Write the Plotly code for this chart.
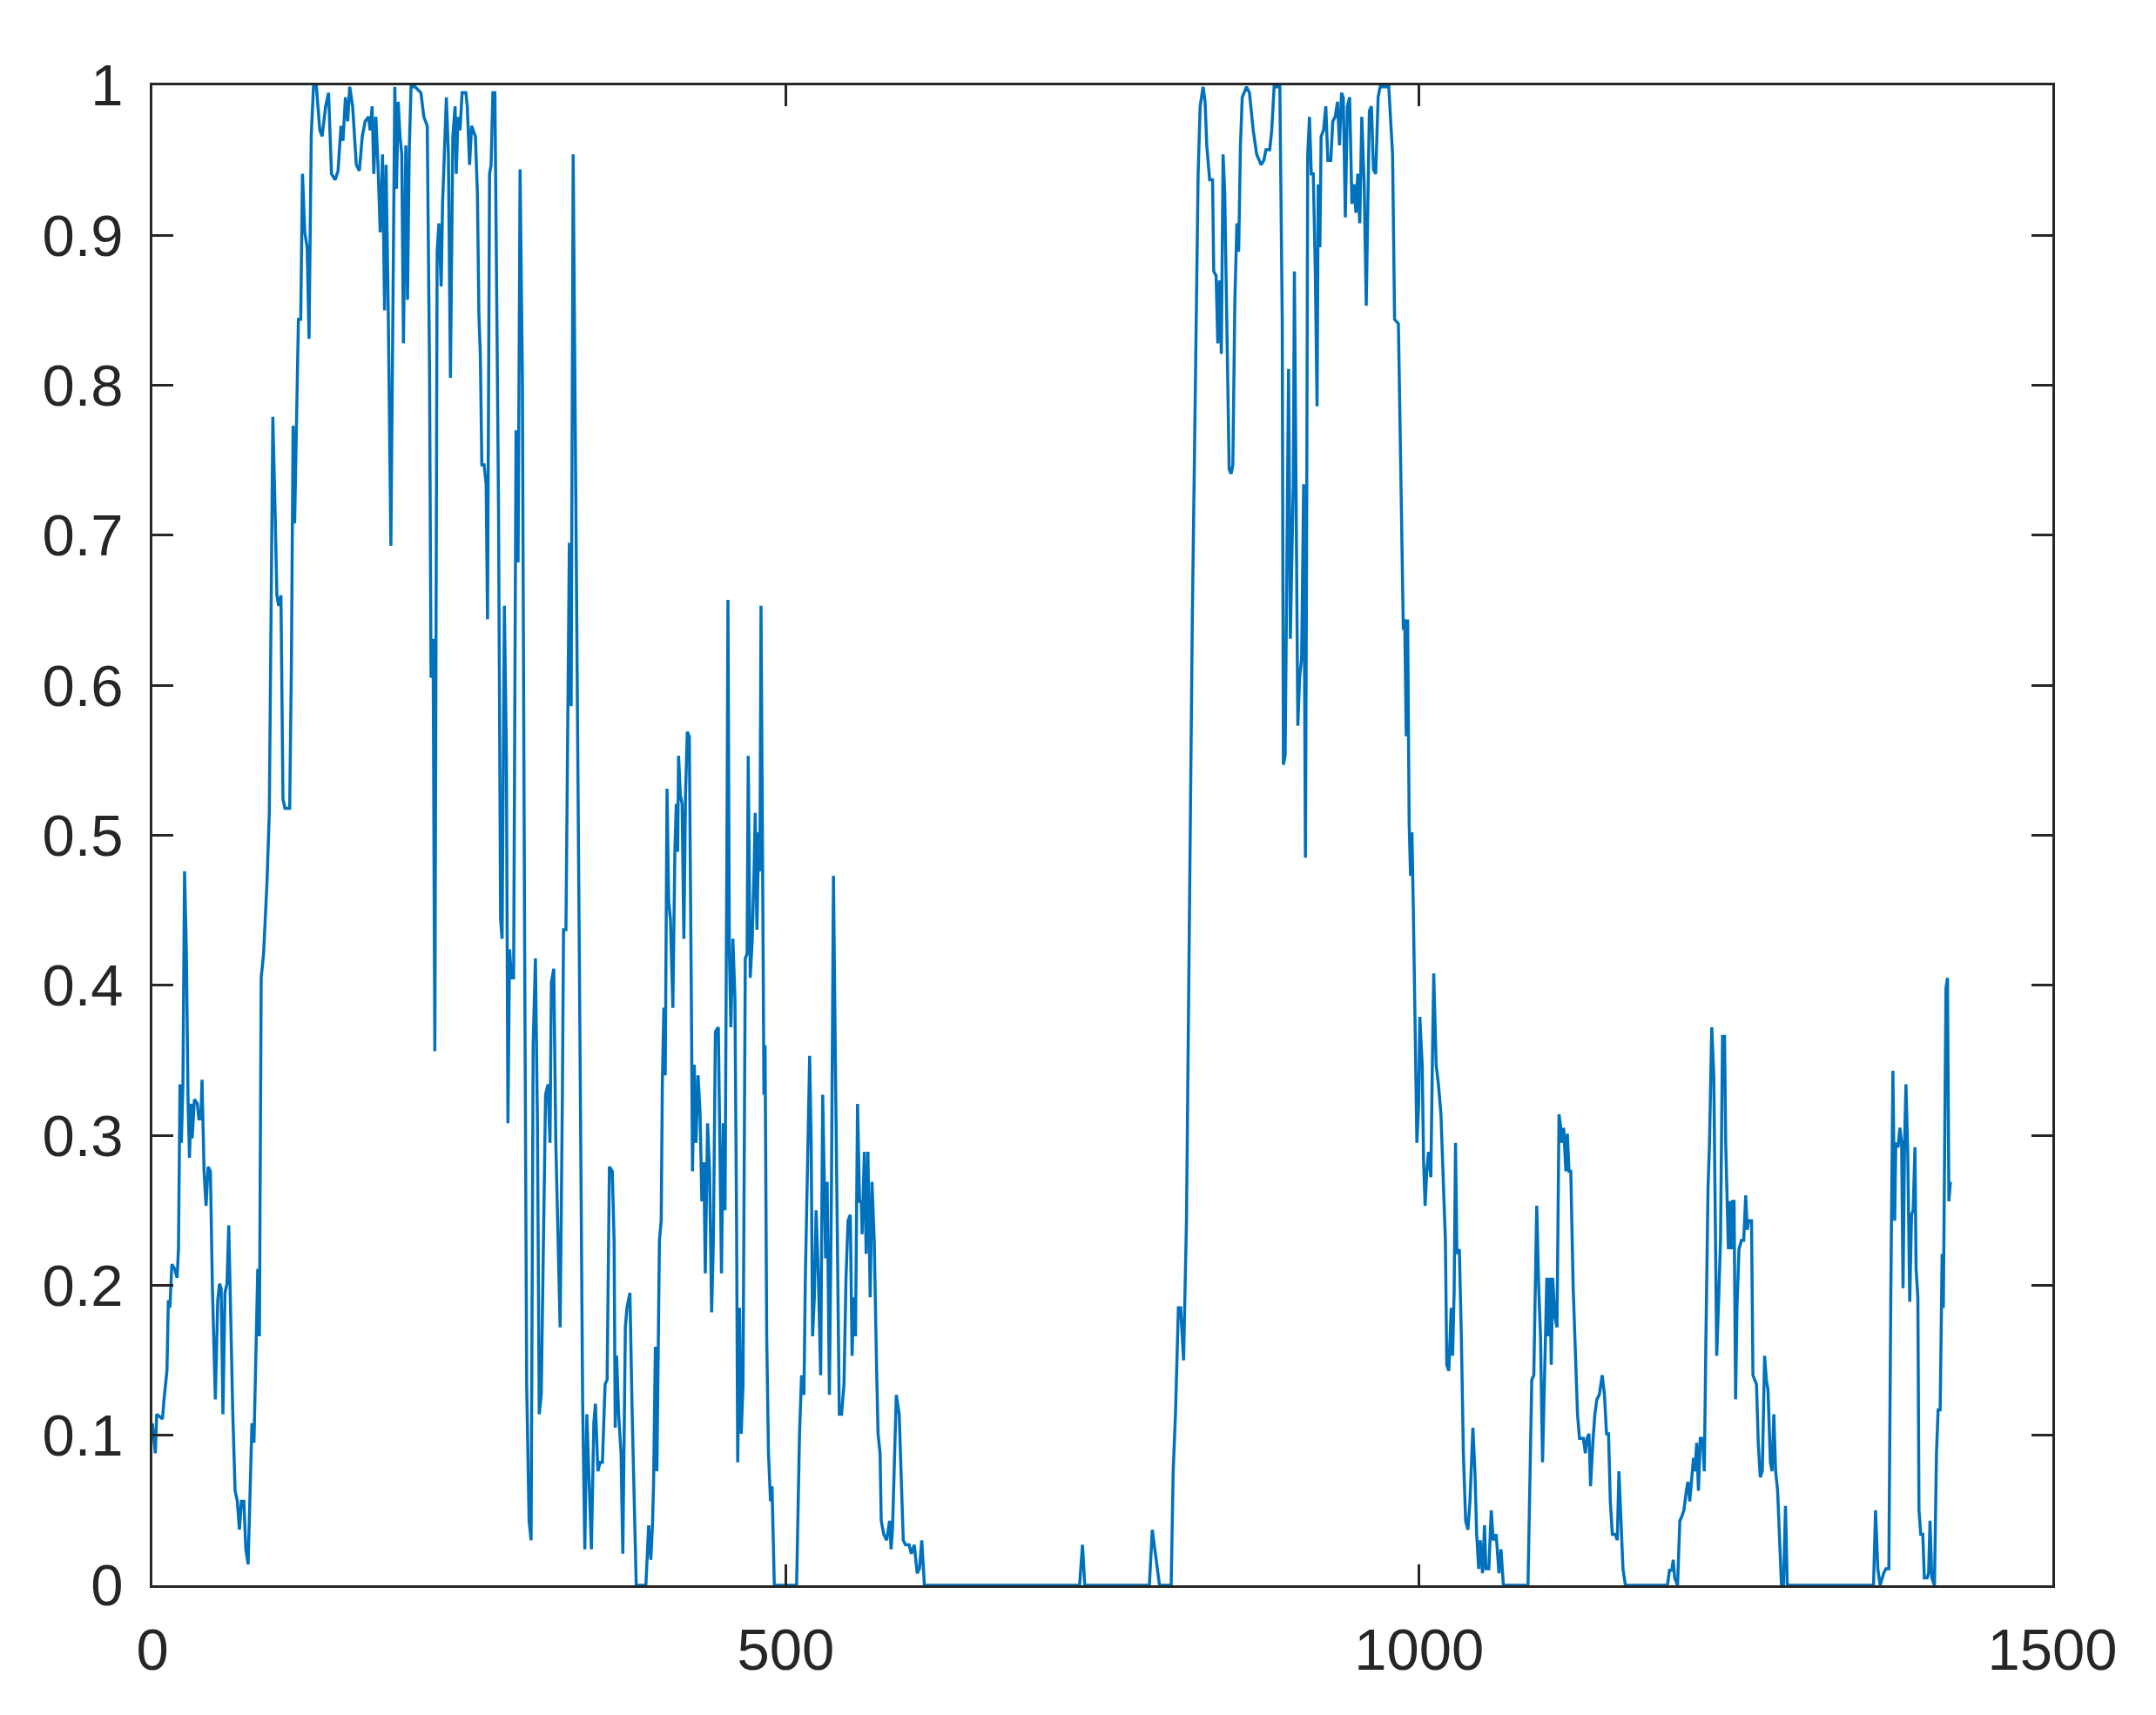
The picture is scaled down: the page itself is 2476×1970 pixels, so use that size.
import plotly.graph_objects as go

# sample index and signal value
sample_idx = [
    0, 2.3, 3.4, 8.0, 9.2, 11.5, 12.6, 13.8, 15.4, 17.6, 19.5, 20.6, 21.8, 22.9, 24.1, 25.4, 26.8, 28.2, 29.3, 30.5,
    31.4, 33.2, 35.5, 36.7, 38.3, 39.2, 40.8, 42.4, 44.0, 45.8, 47.4, 49.7, 51.6, 53.0, 54.3, 55.7, 57.3, 58.9, 60.3, 61.9,
    63.5, 65.3, 67.1, 68.7, 70.3, 72.2, 73.8, 75.6, 77.2, 78.6, 80.2, 81.8, 83.2, 84.5, 85.9, 87.8, 89.4, 90.5, 92.3, 93.3,
    95.1, 96.9, 98.3, 99.7, 101.5, 103.1, 104.7, 106.6, 108.4, 109.8, 111.1, 112.3, 113.4, 115.3, 117.1, 118.5, 120.3, 122.2, 123.7, 125.4,
    127.2, 129.5, 132.2, 134.0, 136.8, 139.1, 141.4, 144.3, 146.6, 148.9, 150.5, 152.4, 154.2, 155.8, 158.1, 161.0, 163.4, 165.7, 168.0, 170.7,
    171.9, 173.5, 174.8, 176.4, 178.1, 179.9, 181.7, 183.3, 184.5, 186.3, 188.3,
    191.4, 192.7, 194.1, 195.5, 196.9, 198.2, 200.1, 201.4, 202.8, 204.2, 207.4, 212.0, 214.3, 217.0, 218.8, 220.0, 221.6, 223.0, 223.9, 224.8,
    226.2, 228.0, 229.1, 232.1, 233.7, 235.3, 237.2, 239.0, 239.9, 241.3, 242.9, 244.5, 247.5, 248.6, 250.4, 252.0, 255.0, 256.6, 257.8, 258.9,
    260.1, 261.9, 263.5, 264.6, 266.2, 267.4, 268.8, 270.4, 272.0, 273.3, 274.9, 276.1, 277.9, 279.5, 280.7, 282.0, 283.4, 285.2, 287.1, 288.7,
    290.3, 292.1, 293.9, 295.5, 297.4, 299.0, 300.6, 302.4, 304.0, 305.4, 307.0, 308.6, 310.4, 312.3, 313.9, 315.0, 316.9, 318.5, 320.1, 321.9,
    323.7, 324.6, 326.5, 327.8, 329.2, 330.6, 332.2, 333.8, 335.6, 337.9, 339.7, 341.4, 343.0, 344.8, 346.6, 348.5, 349.8, 351.7, 353.5, 355.3,
    357.4, 359.0, 360.8, 363.1, 364.5, 365.4, 366.5, 368.1, 370.0, 371.4, 373.4,
    374.7, 377.0, 378.8, 380.6, 382.0, 389.6, 391.8, 393.5, 394.8, 395.7, 397.1, 398.3, 399.4, 400.3, 401.7, 402.6, 403.8, 404.9, 406.3, 407.6,
    409.0, 410.9, 412.5, 413.6, 414.7, 415.4, 416.8, 418.2, 419.6, 420.9, 422.3, 423.9, 425.5, 426.4, 427.8, 429.2, 430.8, 432.4, 433.8, 435.4,
    436.5, 438.3, 439.9, 441.5, 442.9, 444.5, 446.8, 447.9, 449.3, 450.7, 452.1, 453.7, 454.4, 455.5, 456.7, 458.3, 459.9, 461.2, 462.1, 463.5,
    464.9, 466.3, 468.1, 469.5, 470.4, 472.0, 473.6, 475.0, 475.9, 477.3, 478.6, 479.6, 480.5, 481.8, 482.8, 483.7, 485.0, 486.4, 488.0, 489.2,
    491.0, 508.6, 510.9, 512.5, 514.4, 515.5, 517.1, 518.9, 520.1, 521.2, 522.6, 524.0, 525.8, 527.6, 529.2, 530.4, 531.5, 532.7, 534.5, 536.1,
    537.7, 539.1, 540.7, 542.3, 544.1, 546.0, 547.6, 549.2, 551.0, 552.4, 553.7, 555.1, 556.7, 558.3, 559.7,
    560.3, 562.1, 563.5, 564.9, 566.7, 568.1, 569.9, 571.7, 572.9, 574.5, 575.4, 577.4, 579.7, 582.0, 583.2, 584.3, 585.5, 587.3, 589.6, 591.2,
    592.8, 594.6, 597.4, 599.2, 601.5, 603.8, 605.6, 607.4, 609.5, 732.0, 734.3, 736.1,
    787.1, 789.4, 792.1, 795.1, 804.3, 805.9, 807.7, 810.0, 811.8, 814.1, 816.4, 818.0, 819.6, 821.0, 822.6, 824.2, 825.6, 827.2, 829.5, 831.1,
    832.4, 834.7, 837.0, 837.9, 839.8, 841.1, 842.5, 843.9, 845.3, 846.6, 848.5, 850.1, 851.7, 853.0, 854.6, 856.2, 857.6, 859.0, 860.4, 863.8,
    866.1, 869.1, 871.8, 875.3, 877.5, 879.1, 882.1, 883.7, 885.6, 890.1, 892.0, 892.9, 894.3, 895.6, 897.0, 898.4, 899.8, 900.7, 901.6, 903.0,
    904.3, 905.7, 907.3, 908.9, 910.3, 911.2, 912.1, 913.5, 914.9, 916.5, 918.1, 919.5, 920.4, 921.7, 922.7,
    924.6, 926.4, 928.0, 930.3, 931.9, 933.8, 935.6, 937.2, 938.8, 940.2, 941.8, 943.4, 945.2, 947.0, 948.6, 950.2, 951.6, 953.2, 954.8, 956.7,
    958.3, 959.4, 960.8, 962.4, 964.0, 965.8, 967.7, 969.3, 976.1, 979.1, 980.7, 983.7, 985.3, 986.4, 987.6, 988.7, 989.9, 991.0, 992.2, 993.3,
    994.4, 995.6, 997.4, 998.3, 999.7, 1000.6, 1002.5, 1003.6, 1004.8, 1006.1, 1007.5, 1009.3, 1010.5, 1011.6, 1013.5, 1015.3, 1017.3, 1018.9, 1020.8, 1021.9,
    1023.5, 1025.4, 1026.5, 1027.7, 1028.8, 1029.9, 1031.8, 1033.4, 1035.0, 1036.8, 1038.6, 1040.2, 1042.5, 1044.1, 1045.5, 1047.1, 1048.3, 1050.1, 1051.7, 1052.8,
    1055.1, 1057.0, 1058.6, 1060.9, 1063.1, 1064.7, 1066.6, 1086.0, 1087.6, 1089.0, 1090.6, 1092.9, 1094.5, 1095.9, 1097.5, 1099.1, 1100.9, 1102.1, 1103.2, 1104.4,
    1105.5, 1107.3, 1108.9, 1110.5, 1111.9, 1112.8, 1114.2, 1115.9, 1117.1, 1118.4, 1119.8, 1121.7, 1123.5, 1125.1, 1126.7, 1129.7, 1131.3, 1132.6, 1134.2, 1135.4,
    1137.2, 1138.8, 1140.4, 1142.3, 1144.6, 1146.4, 1148.0, 1149.6, 1151.0, 1152.6, 1154.9, 1156.5, 1157.8, 1159.4, 1161.0, 1162.9, 1196.1, 1197.7, 1199.5, 1200.7,
    1201.8, 1204.1, 1205.9, 1207.5, 1209.1, 1211.0, 1212.3, 1213.7, 1215.1, 1216.7, 1217.8, 1219.2, 1220.6, 1222.0, 1223.8, 1225.2, 1226.5, 1228.1, 1229.3, 1231.1,
    1232.7, 1233.9, 1235.0, 1236.6, 1238.0, 1239.6, 1241.2, 1242.1, 1243.5, 1244.2, 1245.3, 1246.5, 1247.6, 1248.7, 1249.9, 1251.0, 1252.6, 1254.5, 1256.3, 1257.9,
    1259.1, 1260.2, 1262.5, 1263.6, 1265.0, 1266.4, 1267.8, 1269.4, 1271.0, 1272.8, 1274.2, 1275.5, 1277.4, 1278.7, 1280.1, 1281.5, 1283.1, 1284.7, 1286.1, 1287.7,
    1289.3, 1290.7,
    1358.8, 1360.4, 1362.2, 1364.0, 1366.8, 1368.6, 1370.9, 1372.5, 1374.1, 1375.5, 1376.4, 1378.2, 1379.6, 1381.0, 1382.1, 1383.3, 1384.4, 1385.8, 1387.4, 1388.8,
    1390.1, 1391.5, 1392.4, 1393.8, 1394.7, 1396.1, 1397.7, 1398.9, 1401.1, 1402.3, 1403.4, 1404.8, 1406.9, 1408.5, 1409.8, 1411.4, 1413.0, 1413.9, 1414.9, 1416.0,
    1417.2, 1418.3, 1419.5,
]

signal = [
    0.108, 0.088, 0.114, 0.111, 0.124, 0.143, 0.19, 0.185, 0.214, 0.211, 0.205, 0.224, 0.334, 0.295, 0.334, 0.476, 0.424, 0.321, 0.285, 0.321,
    0.298, 0.324, 0.321, 0.311, 0.311, 0.337, 0.276, 0.253, 0.279, 0.276, 0.198, 0.124, 0.19, 0.201, 0.198, 0.114, 0.195, 0.201, 0.24, 0.172,
    0.114, 0.063, 0.056, 0.037, 0.056, 0.056, 0.024, 0.014, 0.069, 0.108, 0.095, 0.166, 0.211, 0.166, 0.405, 0.421, 0.45, 0.469, 0.515, 0.618,
    0.779, 0.715, 0.66, 0.653, 0.66, 0.524, 0.518, 0.518, 0.518, 0.618, 0.773, 0.708, 0.753, 0.844, 0.844, 0.941, 0.902, 0.892, 0.831, 0.966,
    0.999, 0.999, 0.97, 0.966, 0.986, 0.995, 0.941, 0.937, 0.943, 0.973, 0.963, 0.992, 0.976, 0.999, 0.986, 0.947, 0.943, 0.966, 0.976, 0.979,
    0.97, 0.986, 0.941, 0.979, 0.947, 0.902, 0.954, 0.85, 0.947, 0.844, 0.693,
    0.999, 0.931, 0.989, 0.966, 0.954, 0.828, 0.96, 0.857, 0.957, 0.999, 0.999, 0.995, 0.979, 0.973, 0.811, 0.605, 0.631, 0.356, 0.682, 0.889,
    0.908, 0.866, 0.921, 0.992, 0.954, 0.805, 0.966, 0.986, 0.941, 0.979, 0.97, 0.995, 0.995, 0.986, 0.947, 0.973, 0.966, 0.928, 0.847, 0.821,
    0.747, 0.747, 0.734, 0.644, 0.941, 0.947, 0.995, 0.995, 0.844, 0.715, 0.444, 0.431, 0.653, 0.553, 0.308, 0.424, 0.405, 0.405, 0.77, 0.682,
    0.944, 0.805, 0.424, 0.134, 0.043, 0.03, 0.36, 0.418, 0.308, 0.114, 0.127, 0.23, 0.327, 0.334, 0.295, 0.402, 0.411, 0.295, 0.23, 0.172,
    0.327, 0.437, 0.437, 0.586, 0.695, 0.586, 0.954, 0.779, 0.553, 0.327, 0.121, 0.024, 0.114, 0.063, 0.024, 0.108, 0.121, 0.076, 0.082, 0.082,
    0.134, 0.137, 0.279, 0.276, 0.23, 0.105, 0.153, 0.114, 0.088, 0.021, 0.172,
    0.185, 0.195, 0.114, 0.037, 0, 0, 0.04, 0.017, 0.04, 0.069, 0.159, 0.076, 0.159, 0.23, 0.243, 0.334, 0.385, 0.34, 0.531, 0.456,
    0.444, 0.385, 0.489, 0.521, 0.489, 0.553, 0.527, 0.521, 0.431, 0.527, 0.569, 0.566, 0.392, 0.276, 0.347, 0.295, 0.34, 0.314, 0.256, 0.282,
    0.208, 0.308, 0.276, 0.182, 0.23, 0.369, 0.372, 0.308, 0.208, 0.308, 0.25, 0.515, 0.657, 0.424, 0.372, 0.431, 0.392, 0.243, 0.082, 0.185,
    0.101, 0.134, 0.418, 0.421, 0.553, 0.405, 0.431, 0.476, 0.515, 0.437, 0.502, 0.476, 0.653, 0.476, 0.327, 0.36, 0.166, 0.088, 0.056, 0.066,
    0, 0, 0.101, 0.14, 0.127, 0.205, 0.282, 0.353, 0.295, 0.166, 0.192, 0.25, 0.205, 0.14, 0.327, 0.269, 0.218, 0.269, 0.127, 0.263,
    0.473, 0.36, 0.23, 0.114, 0.114, 0.134, 0.205, 0.243, 0.247, 0.153, 0.192, 0.166, 0.321, 0.256, 0.256,
    0.234, 0.289, 0.221, 0.289, 0.192, 0.269, 0.23, 0.147, 0.101, 0.088, 0.043, 0.034, 0.03, 0.043, 0.024, 0.037, 0.069, 0.127, 0.114, 0.069,
    0.03, 0.027, 0.027, 0.021, 0.027, 0.008, 0.011, 0.03, 0, 0, 0.027, 0,
    0, 0.037, 0.021, 0, 0, 0.076, 0.114, 0.185, 0.185, 0.15, 0.243, 0.392, 0.553, 0.644, 0.747, 0.844, 0.941, 0.986, 0.999, 0.989,
    0.96, 0.937, 0.937, 0.876, 0.873, 0.828, 0.87, 0.821, 0.954, 0.928, 0.811, 0.744, 0.741, 0.747, 0.857, 0.908, 0.889, 0.96, 0.992, 0.999,
    0.995, 0.97, 0.954, 0.947, 0.95, 0.957, 0.957, 0.97, 0.999, 0.999, 0.844, 0.547, 0.553, 0.66, 0.811, 0.631, 0.715, 0.734, 0.876, 0.747,
    0.573, 0.605, 0.618, 0.734, 0.485, 0.682, 0.954, 0.979, 0.941, 0.941, 0.876, 0.786, 0.934, 0.892, 0.966,
    0.97, 0.986, 0.95, 0.95, 0.976, 0.979, 0.989, 0.96, 0.995, 0.992, 0.912, 0.986, 0.992, 0.921, 0.934, 0.915, 0.941, 0.908, 0.979, 0.934,
    0.853, 0.928, 0.983, 0.986, 0.944, 0.941, 0.992, 0.999, 0.999, 0.954, 0.844, 0.841, 0.76, 0.676, 0.637, 0.644, 0.566, 0.644, 0.508, 0.473,
    0.502, 0.444, 0.327, 0.295, 0.321, 0.379, 0.347, 0.282, 0.253, 0.276, 0.289, 0.272, 0.347, 0.408, 0.347, 0.334, 0.314, 0.276, 0.23, 0.147,
    0.143, 0.185, 0.153, 0.195, 0.295, 0.221, 0.224, 0.166, 0.088, 0.043, 0.037, 0.056, 0.105, 0.076, 0.034, 0.011, 0.03, 0.008, 0.04, 0.011,
    0.011, 0.05, 0.03, 0.034, 0.008, 0.024, 0, 0, 0.069, 0.137, 0.14, 0.253, 0.198, 0.166, 0.082, 0.134, 0.205, 0.166, 0.205, 0.147,
    0.205, 0.179, 0.172, 0.314, 0.305, 0.295, 0.305, 0.276, 0.301, 0.276, 0.276, 0.198, 0.147, 0.114, 0.098, 0.098, 0.088, 0.098, 0.101, 0.066,
    0.095, 0.114, 0.124, 0.127, 0.14, 0.127, 0.101, 0.101, 0.056, 0.034, 0.034, 0.03, 0.076, 0.04, 0.011, 0, 0, 0.01, 0.01, 0.017,
    0.005, 0, 0.043, 0.046, 0.05, 0.063, 0.069, 0.056, 0.072, 0.085, 0.076, 0.095, 0.063, 0.098, 0.098, 0.076, 0.166, 0.263, 0.295, 0.372,
    0.34, 0.23, 0.153, 0.192, 0.23, 0.366, 0.366, 0.295, 0.243, 0.224, 0.256, 0.224, 0.256, 0.256, 0.124, 0.185, 0.224, 0.23, 0.23, 0.26,
    0.237, 0.243, 0.243, 0.14, 0.137, 0.134, 0.095, 0.072, 0.076, 0.153, 0.137, 0.13, 0.082, 0.076, 0.114, 0.076, 0.063, 0.024, 0, 0,
    0.053, 0,
    0, 0.05, 0.011, 0, 0.008, 0.011, 0.011, 0.198, 0.343, 0.243, 0.295, 0.292, 0.305, 0.295, 0.198, 0.295, 0.334, 0.289, 0.189, 0.247,
    0.25, 0.292, 0.211, 0.192, 0.05, 0.034, 0.034, 0.005, 0.005, 0.008, 0.043, 0.005, 0, 0.088, 0.117, 0.117, 0.221, 0.185, 0.327, 0.398,
    0.405, 0.256, 0.269,
]

x_ticks = [0, 500, 1000, 1500]
y_ticks = [0, 0.1, 0.2, 0.3, 0.4, 0.5, 0.6, 0.7, 0.8, 0.9, 1]

axis_color = "#262626"

fig = go.Figure()
fig.add_trace(
    go.Scatter(
        x=sample_idx,
        y=signal,
        mode="lines",
        line=dict(color="#0072BD", width=3.5),
        showlegend=False,
    )
)

axis_style = dict(
    showline=True,
    linecolor=axis_color,
    linewidth=3,
    mirror="ticks",
    ticks="inside",
    ticklen=24,
    tickwidth=3,
    tickcolor=axis_color,
    showgrid=False,
    zeroline=False,
    tickfont=dict(family="Liberation Sans, Arial, sans-serif", size=67, color=axis_color),
)

fig.update_xaxes(range=[0, 1500], tickvals=x_ticks, ticklabelstandoff=14, **axis_style)
fig.update_yaxes(
    range=[0, 1],
    tickvals=y_ticks,
    ticktext=[f"{v:g}" for v in y_ticks],
    ticklabelstandoff=17,
    **axis_style,
)

# the page adds an 8px body margin, so margins are shifted to compensate
fig.update_layout(
    width=2476,
    height=1970,
    margin=dict(l=167, r=127, t=90, b=157),
    plot_bgcolor="white",
    paper_bgcolor="white",
)

fig.write_html("out.html")
